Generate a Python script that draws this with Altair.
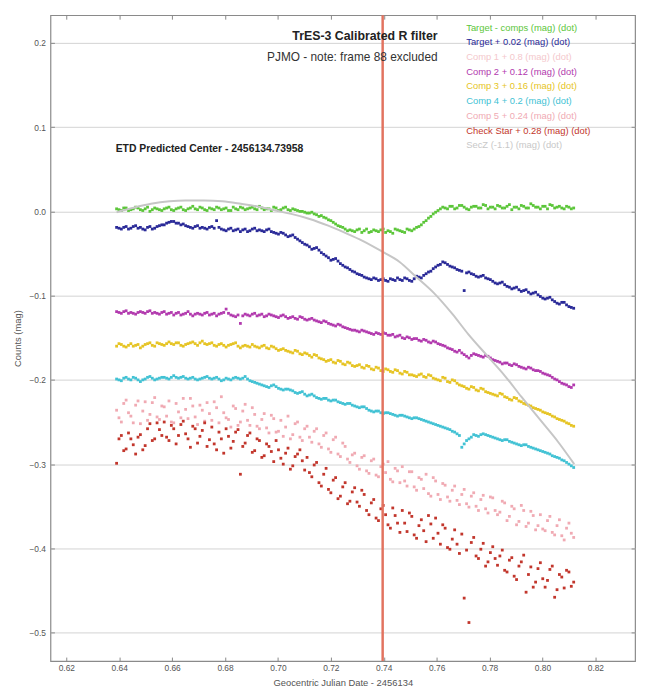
import altair as alt
import pandas as pd

# ---------------- data ----------------
# frames come in two interleaved sets (A and B) so that the dots are as dense as in the picture
TIMES_A = [0.6390, 0.6408, 0.6426, 0.6444, 0.6462, 0.6480, 0.6498, 0.6516, 0.6534, 0.6552,
           0.6570, 0.6588, 0.6606, 0.6624, 0.6642, 0.6660, 0.6678, 0.6696, 0.6714, 0.6732,
           0.6750, 0.6768, 0.6786, 0.6804, 0.6822, 0.6840, 0.6858, 0.6876, 0.6894, 0.6912,
           0.6930, 0.6948, 0.6966, 0.6984, 0.7002, 0.7020, 0.7038, 0.7056, 0.7074, 0.7092,
           0.7110, 0.7128, 0.7146, 0.7164, 0.7182, 0.7200, 0.7218, 0.7236, 0.7254, 0.7272,
           0.7290, 0.7308, 0.7326, 0.7344, 0.7362, 0.7380, 0.7398, 0.7416, 0.7434, 0.7452,
           0.7470, 0.7488, 0.7506, 0.7524, 0.7542, 0.7560, 0.7578, 0.7596, 0.7614, 0.7632,
           0.7650, 0.7668, 0.7686, 0.7704, 0.7722, 0.7740, 0.7758, 0.7776, 0.7794, 0.7812,
           0.7830, 0.7848, 0.7866, 0.7884, 0.7902, 0.7920, 0.7938, 0.7956, 0.7974, 0.7992,
           0.8010, 0.8028, 0.8046, 0.8064, 0.8082, 0.8100, 0.8118]
TIMES_B = [0.6399, 0.6417, 0.6435, 0.6453, 0.6471, 0.6489, 0.6507, 0.6525, 0.6543, 0.6561,
           0.6579, 0.6597, 0.6615, 0.6633, 0.6651, 0.6669, 0.6687, 0.6705, 0.6723, 0.6741,
           0.6759, 0.6777, 0.6795, 0.6813, 0.6831, 0.6849, 0.6867, 0.6885, 0.6903, 0.6921,
           0.6939, 0.6957, 0.6975, 0.6993, 0.7011, 0.7029, 0.7047, 0.7065, 0.7083, 0.7101,
           0.7119, 0.7137, 0.7155, 0.7173, 0.7191, 0.7209, 0.7227, 0.7245, 0.7263, 0.7281,
           0.7299, 0.7317, 0.7335, 0.7353, 0.7371, 0.7389, 0.7407, 0.7425, 0.7443, 0.7461,
           0.7479, 0.7497, 0.7515, 0.7533, 0.7551, 0.7569, 0.7587, 0.7605, 0.7623, 0.7641,
           0.7659, 0.7677, 0.7695, 0.7713, 0.7731, 0.7749, 0.7767, 0.7785, 0.7803, 0.7821,
           0.7839, 0.7857, 0.7875, 0.7893, 0.7911, 0.7929, 0.7947, 0.7965, 0.7983, 0.8001,
           0.8019, 0.8037, 0.8055, 0.8073, 0.8091, 0.8109]

TARGET_COMPS_A = [0.003, 0.001, 0.004, 0.002, 0.005, 0.002, 0.003, 0.000, 0.004, 0.002,
                  0.003, 0.005, 0.001, 0.004, 0.002, 0.003, 0.006, 0.002, 0.004, 0.001,
                  0.003, 0.005, 0.002, 0.004, 0.001, 0.003, 0.005, 0.002, 0.004, 0.003,
                  0.006, 0.002, 0.003, 0.005, 0.001, 0.004, 0.002, 0.003, 0.001,
                  0.000, -0.002, -0.001, -0.004, -0.005, -0.008, -0.011, -0.015, -0.018, -0.021,
                  -0.022, -0.024, -0.021, -0.023, -0.025, -0.022, -0.024, -0.021, -0.023, -0.026,
                  -0.022, -0.024, -0.021, -0.023,
                  -0.019, -0.016, -0.011, -0.006, -0.001, 0.003,
                  0.004, 0.006, 0.003, 0.007, 0.005, 0.002, 0.006, 0.004, 0.008, 0.003,
                  0.005, 0.007, 0.004, 0.006, 0.002, 0.005, 0.007, 0.004, 0.009, 0.005,
                  0.003, 0.006, 0.008, 0.004, 0.006, 0.003, 0.005, 0.004]
TARGET_COMPS_B = [0.002, 0.004, 0.001, 0.003, 0.004, 0.001, 0.005, 0.002, 0.003, 0.001,
                  0.004, 0.002, 0.003, 0.005, 0.001, 0.004, 0.003, 0.005, 0.002, 0.004,
                  0.002, 0.004, 0.003, 0.001, 0.005, 0.002, 0.004, 0.003, 0.005, 0.002,
                  0.004, 0.003, 0.001, 0.004, 0.002, 0.005, 0.001, 0.002,
                  0.000, -0.001, -0.002, -0.003, -0.006, -0.007, -0.010, -0.013, -0.017, -0.019, -0.023,
                  -0.023, -0.022, -0.025, -0.021, -0.024, -0.023, -0.022, -0.025, -0.024, -0.021,
                  -0.023, -0.025, -0.022,
                  -0.021, -0.018, -0.013, -0.008, -0.003, 0.001,
                  0.005, 0.003, 0.006, 0.004, 0.007, 0.003, 0.005, 0.006, 0.004, 0.007,
                  0.005, 0.003, 0.006, 0.004, 0.008, 0.005, 0.003, 0.006, 0.004, 0.007,
                  0.005, 0.006, 0.003, 0.007, 0.005, 0.004, 0.006, 0.003]

TARGET_A = [-0.019, -0.021, -0.018, -0.020, -0.017, -0.019, -0.022, -0.018, -0.020, -0.017,
            -0.016, -0.013, -0.012, -0.014, -0.015, -0.018, -0.020, -0.017, -0.019, -0.021,
            -0.018, -0.011, -0.021, -0.023, -0.020, -0.022, -0.024, -0.021, -0.023, -0.020,
            -0.022, -0.024, -0.021, -0.025, -0.027, -0.026, -0.030, -0.028, -0.033, -0.037,
            -0.040, -0.045, -0.043, -0.049, -0.053, -0.058, -0.056, -0.062, -0.066, -0.069,
            -0.072, -0.075, -0.078, -0.080, -0.079, -0.082, -0.080, -0.083, -0.081, -0.079,
            -0.082, -0.080, -0.083, -0.077, -0.079, -0.074, -0.071, -0.066, -0.063, -0.061,
            -0.065, -0.067, -0.070, -0.094, -0.072, -0.075, -0.078, -0.076, -0.080, -0.083,
            -0.086, -0.084, -0.089, -0.092, -0.090, -0.095, -0.093, -0.098, -0.096, -0.101,
            -0.104, -0.102, -0.107, -0.110, -0.108, -0.113, -0.115]
TARGET_B = [-0.020, -0.019, -0.021, -0.018, -0.020, -0.021, -0.019, -0.021, -0.018, -0.016,
            -0.014, -0.012, -0.014, -0.016, -0.017, -0.019, -0.018, -0.020, -0.020, -0.019,
            -0.020, -0.019, -0.022, -0.021, -0.023, -0.021, -0.022, -0.024, -0.021, -0.023,
            -0.023, -0.022, -0.024, -0.026, -0.025, -0.028, -0.029, -0.031, -0.035, -0.039,
            -0.042, -0.044, -0.046, -0.051, -0.055, -0.057, -0.059, -0.064, -0.067, -0.071,
            -0.074, -0.076, -0.079, -0.081, -0.080, -0.081, -0.082, -0.080, -0.082, -0.081,
            -0.079, -0.082, -0.080, -0.078, -0.076, -0.072, -0.068, -0.064, -0.060, -0.063,
            -0.066, -0.069, -0.071, -0.073, -0.074, -0.077, -0.077, -0.079, -0.081, -0.085,
            -0.085, -0.087, -0.090, -0.091, -0.093, -0.094, -0.096, -0.097, -0.099, -0.103,
            -0.103, -0.105, -0.109, -0.108, -0.111, -0.114]

COMP2_A = [-0.119, -0.121, -0.118, -0.120, -0.122, -0.119, -0.121, -0.118, -0.120, -0.122,
           -0.119, -0.121, -0.123, -0.120, -0.122, -0.119, -0.124, -0.121, -0.123, -0.120,
           -0.122, -0.124, -0.121, -0.116, -0.123, -0.125, -0.133, -0.122, -0.124, -0.121,
           -0.123, -0.125, -0.122, -0.124, -0.126, -0.123, -0.127, -0.125, -0.128, -0.126,
           -0.129, -0.127, -0.130, -0.132, -0.131, -0.134, -0.136, -0.135, -0.138, -0.140,
           -0.141, -0.143, -0.142, -0.144, -0.146, -0.145, -0.144, -0.147, -0.146, -0.148,
           -0.150, -0.149, -0.152, -0.151, -0.154, -0.153, -0.156, -0.155, -0.158, -0.160,
           -0.163, -0.166, -0.165, -0.170, -0.174, -0.169, -0.171, -0.173, -0.172, -0.176,
           -0.178, -0.181, -0.180, -0.183, -0.182, -0.185, -0.187, -0.186, -0.189, -0.190,
           -0.193, -0.195, -0.199, -0.202, -0.205, -0.208, -0.206]
COMP2_B = [-0.120, -0.119, -0.121, -0.121, -0.120, -0.120, -0.119, -0.121, -0.121, -0.120,
           -0.122, -0.120, -0.121, -0.123, -0.121, -0.122, -0.122, -0.122, -0.121, -0.123,
           -0.121, -0.122, -0.120, -0.121, -0.124, -0.123, -0.124, -0.123, -0.122, -0.124,
           -0.122, -0.124, -0.123, -0.125, -0.124, -0.125, -0.126, -0.127, -0.125, -0.128,
           -0.128, -0.129, -0.131, -0.130, -0.133, -0.135, -0.134, -0.137, -0.139, -0.141,
           -0.142, -0.141, -0.143, -0.145, -0.144, -0.146, -0.145, -0.147, -0.149, -0.147,
           -0.151, -0.150, -0.151, -0.153, -0.152, -0.155, -0.154, -0.157, -0.159, -0.162,
           -0.164, -0.167, -0.168, -0.172, -0.171, -0.170, -0.172, -0.171, -0.174, -0.177,
           -0.179, -0.180, -0.182, -0.181, -0.184, -0.186, -0.185, -0.188, -0.189, -0.192,
           -0.194, -0.197, -0.200, -0.204, -0.206, -0.209]

COMP3_A = [-0.160, -0.158, -0.161, -0.157, -0.159, -0.162, -0.158, -0.156, -0.160, -0.157,
           -0.159, -0.155, -0.158, -0.156, -0.160, -0.157, -0.155, -0.159, -0.154, -0.158,
           -0.156, -0.160, -0.157, -0.161, -0.158, -0.156, -0.162, -0.159, -0.161, -0.160,
           -0.162, -0.159, -0.163, -0.161, -0.165, -0.163, -0.166, -0.168, -0.166, -0.170,
           -0.169, -0.173, -0.171, -0.175, -0.178, -0.176, -0.180, -0.178, -0.182, -0.180,
           -0.184, -0.182, -0.186, -0.184, -0.188, -0.186, -0.190, -0.188, -0.191, -0.189,
           -0.193, -0.191, -0.194, -0.196, -0.193, -0.197, -0.195, -0.199, -0.201, -0.198,
           -0.203, -0.201, -0.206, -0.208, -0.211, -0.209, -0.213, -0.211, -0.215, -0.217,
           -0.219, -0.217, -0.221, -0.224, -0.222, -0.226, -0.229, -0.231, -0.234, -0.236,
           -0.239, -0.241, -0.244, -0.247, -0.249, -0.252, -0.255]
COMP3_B = [-0.157, -0.160, -0.159, -0.160, -0.158, -0.160, -0.157, -0.159, -0.156, -0.158,
           -0.157, -0.157, -0.156, -0.159, -0.158, -0.156, -0.157, -0.156, -0.157, -0.157,
           -0.159, -0.158, -0.159, -0.159, -0.157, -0.160, -0.160, -0.160, -0.158, -0.161,
           -0.160, -0.162, -0.160, -0.163, -0.164, -0.165, -0.167, -0.165, -0.169, -0.168,
           -0.171, -0.170, -0.174, -0.176, -0.177, -0.179, -0.177, -0.181, -0.179, -0.183,
           -0.183, -0.185, -0.183, -0.187, -0.185, -0.189, -0.187, -0.190, -0.188, -0.192,
           -0.190, -0.194, -0.195, -0.194, -0.196, -0.194, -0.198, -0.200, -0.197, -0.202,
           -0.200, -0.204, -0.207, -0.210, -0.208, -0.212, -0.210, -0.214, -0.216, -0.218,
           -0.216, -0.220, -0.223, -0.221, -0.225, -0.228, -0.230, -0.233, -0.235, -0.238,
           -0.240, -0.243, -0.246, -0.248, -0.251, -0.254]

COMP4_A = [-0.199, -0.201, -0.197, -0.200, -0.198, -0.202, -0.199, -0.196, -0.200, -0.198,
           -0.197, -0.199, -0.195, -0.198, -0.196, -0.199, -0.197, -0.200, -0.198, -0.196,
           -0.199, -0.197, -0.201, -0.198, -0.200, -0.197, -0.199, -0.196, -0.201, -0.203,
           -0.205, -0.207, -0.209, -0.206, -0.210, -0.212, -0.211, -0.213, -0.216, -0.214,
           -0.219, -0.217, -0.221, -0.223, -0.222, -0.225, -0.224, -0.227, -0.229, -0.228,
           -0.231, -0.233, -0.232, -0.236, -0.238, -0.237, -0.240, -0.239, -0.241, -0.243,
           -0.242, -0.244, -0.246, -0.245, -0.247, -0.249, -0.251, -0.253, -0.255, -0.257,
           -0.259, -0.262, -0.266, -0.276, -0.270, -0.265, -0.267, -0.264, -0.266, -0.268,
           -0.270, -0.272, -0.271, -0.274, -0.276, -0.278, -0.277, -0.280, -0.282, -0.284,
           -0.286, -0.288, -0.291, -0.293, -0.296, -0.300, -0.304]
COMP4_B = [-0.200, -0.198, -0.199, -0.197, -0.200, -0.200, -0.197, -0.198, -0.199, -0.197,
           -0.198, -0.197, -0.197, -0.197, -0.198, -0.198, -0.199, -0.199, -0.197, -0.198,
           -0.198, -0.199, -0.200, -0.199, -0.198, -0.198, -0.198, -0.199, -0.202, -0.204,
           -0.206, -0.208, -0.207, -0.208, -0.211, -0.211, -0.212, -0.215, -0.215, -0.217,
           -0.218, -0.219, -0.222, -0.222, -0.224, -0.224, -0.226, -0.228, -0.228, -0.230,
           -0.232, -0.232, -0.234, -0.237, -0.237, -0.239, -0.239, -0.240, -0.242, -0.242,
           -0.243, -0.245, -0.245, -0.246, -0.248, -0.250, -0.252, -0.254, -0.256, -0.258,
           -0.261, -0.264, -0.280, -0.272, -0.268, -0.266, -0.265, -0.265, -0.267, -0.269,
           -0.271, -0.271, -0.273, -0.275, -0.277, -0.277, -0.279, -0.281, -0.283, -0.285,
           -0.287, -0.290, -0.292, -0.295, -0.298, -0.302]

COMP5_A = [-0.236, -0.250, -0.224, -0.243, -0.230, -0.252, -0.226, -0.241, -0.221, -0.247,
           -0.232, -0.225, -0.251, -0.238, -0.222, -0.246, -0.231, -0.253, -0.236, -0.227,
           -0.248, -0.233, -0.220, -0.245, -0.256, -0.234, -0.250, -0.229, -0.254, -0.241,
           -0.258, -0.240, -0.263, -0.246, -0.261, -0.267, -0.243, -0.265, -0.250, -0.272,
           -0.255, -0.274, -0.258, -0.280, -0.263, -0.286, -0.268, -0.291, -0.279, -0.298,
           -0.287, -0.306, -0.290, -0.311, -0.294, -0.315, -0.300, -0.297, -0.321, -0.308,
           -0.303, -0.326, -0.309, -0.331, -0.318, -0.312, -0.338, -0.320, -0.342, -0.325,
           -0.344, -0.326, -0.348, -0.330, -0.351, -0.334, -0.355, -0.337, -0.358, -0.340,
           -0.360, -0.344, -0.367, -0.350, -0.372, -0.349, -0.374, -0.356, -0.378, -0.360,
           -0.379, -0.362, -0.384, -0.366, -0.390, -0.370, -0.387]
COMP5_B = [-0.245, -0.228, -0.239, -0.251, -0.225, -0.237, -0.248, -0.227, -0.244, -0.231,
           -0.243, -0.250, -0.228, -0.245, -0.235, -0.222, -0.244, -0.230, -0.249, -0.240,
           -0.226, -0.251, -0.239, -0.247, -0.231, -0.254, -0.237, -0.248, -0.233, -0.255,
           -0.247, -0.257, -0.242, -0.262, -0.248, -0.256, -0.270, -0.252, -0.268, -0.258,
           -0.268, -0.261, -0.276, -0.266, -0.282, -0.271, -0.288, -0.275, -0.294, -0.289,
           -0.302, -0.292, -0.308, -0.296, -0.313, -0.303, -0.310, -0.318, -0.305, -0.322,
           -0.320, -0.309, -0.327, -0.316, -0.329, -0.335, -0.316, -0.336, -0.323, -0.339,
           -0.331, -0.343, -0.336, -0.347, -0.338, -0.350, -0.342, -0.353, -0.339, -0.355,
           -0.357, -0.346, -0.362, -0.353, -0.368, -0.355, -0.370, -0.361, -0.373, -0.377,
           -0.367, -0.381, -0.373, -0.385, -0.376, -0.382]

CHECK_A = [-0.299, -0.266, -0.282, -0.270, -0.288, -0.265, -0.278, -0.252, -0.270, -0.259,
           -0.250, -0.272, -0.258, -0.266, -0.249, -0.270, -0.255, -0.275, -0.260, -0.279,
           -0.256, -0.283, -0.270, -0.258, -0.281, -0.262, -0.312, -0.275, -0.263, -0.284,
           -0.272, -0.290, -0.279, -0.297, -0.283, -0.300, -0.281, -0.302, -0.288, -0.296,
           -0.292, -0.315, -0.298, -0.326, -0.305, -0.334, -0.316, -0.338, -0.322, -0.344,
           -0.328, -0.350, -0.336, -0.360, -0.342, -0.367, -0.349, -0.372, -0.352, -0.370,
           -0.355, -0.380, -0.362, -0.388, -0.366, -0.392, -0.371, -0.364, -0.395, -0.376,
           -0.401, -0.378, -0.406, -0.459, -0.488, -0.387, -0.412, -0.394, -0.416, -0.398,
           -0.420, -0.402, -0.428, -0.411, -0.437, -0.416, -0.452, -0.422, -0.440, -0.417,
           -0.446, -0.425, -0.458, -0.431, -0.447, -0.428, -0.440]
CHECK_B = [-0.270, -0.284, -0.263, -0.277, -0.268, -0.283, -0.258, -0.272, -0.251, -0.266,
           -0.268, -0.254, -0.276, -0.253, -0.264, -0.280, -0.258, -0.267, -0.251, -0.271,
           -0.276, -0.262, -0.287, -0.267, -0.273, -0.259, -0.279, -0.266, -0.286, -0.270,
           -0.292, -0.276, -0.285, -0.272, -0.293, -0.287, -0.306, -0.291, -0.283, -0.307,
           -0.310, -0.301, -0.322, -0.312, -0.330, -0.319, -0.341, -0.327, -0.347, -0.333,
           -0.345, -0.331, -0.355, -0.346, -0.364, -0.353, -0.360, -0.376, -0.361, -0.381,
           -0.370, -0.358, -0.384, -0.373, -0.379, -0.361, -0.388, -0.382, -0.372, -0.399,
           -0.389, -0.395, -0.383, -0.402, -0.393, -0.409, -0.401, -0.421, -0.405, -0.412,
           -0.409, -0.426, -0.414, -0.433, -0.421, -0.408, -0.431, -0.446, -0.424, -0.436,
           -0.438, -0.421, -0.449, -0.434, -0.426, -0.445]

SECZ_T = [0.639, 0.645, 0.652, 0.659, 0.665, 0.672, 0.679, 0.686, 0.692, 0.699,
          0.705, 0.712, 0.719, 0.725, 0.732, 0.739, 0.746, 0.752, 0.759, 0.766,
          0.772, 0.779, 0.786, 0.792, 0.799, 0.806, 0.812]
SECZ_V = [-0.001, 0.004, 0.009, 0.012, 0.013, 0.013, 0.012, 0.009, 0.006, 0.001,
          -0.003, -0.009, -0.017, -0.025, -0.035, -0.047, -0.060, -0.077, -0.097, -0.122,
          -0.146, -0.171, -0.196, -0.220, -0.247, -0.274, -0.300]

ETD_CENTER = 0.73958

LEGEND_LABELS = ["Target - comps (mag) (dot)", "Target + 0.02 (mag) (dot)",
                 "Comp 1 + 0.8 (mag) (dot)", "Comp 2 + 0.12 (mag) (dot)",
                 "Comp 3 + 0.16 (mag) (dot)", "Comp 4 + 0.2 (mag) (dot)",
                 "Comp 5 + 0.24 (mag) (dot)", "Check Star + 0.28 (mag) (dot)",
                 "SecZ (-1.1) (mag) (dot)"]
LEGEND_COLORS = ["#5cc63a", "#2a2a98", "#f4c8cc", "#b23aae", "#e6c424",
                 "#42c2d4", "#f0aab3", "#c2362c", "#c8c8c8"]

X_TICKS = [0.62, 0.64, 0.66, 0.68, 0.70, 0.72, 0.74, 0.76, 0.78, 0.80, 0.82]
Y_TICKS = [-0.5, -0.4, -0.3, -0.2, -0.1, 0.0, 0.1, 0.2]

# ---------------- tables ----------------
point_series = [
    (LEGEND_LABELS[0], TARGET_COMPS_A, TARGET_COMPS_B),
    (LEGEND_LABELS[1], TARGET_A, TARGET_B),
    (LEGEND_LABELS[3], COMP2_A, COMP2_B),
    (LEGEND_LABELS[4], COMP3_A, COMP3_B),
    (LEGEND_LABELS[5], COMP4_A, COMP4_B),
    (LEGEND_LABELS[6], COMP5_A, COMP5_B),
    (LEGEND_LABELS[7], CHECK_A, CHECK_B),
]
rows = []
for name, vals_a, vals_b in point_series:
    for t, v in zip(TIMES_A, vals_a):
        rows.append({"t": t, "v": v, "s": name})
    for t, v in zip(TIMES_B, vals_b):
        rows.append({"t": t, "v": v, "s": name})
pts = pd.DataFrame(rows)
secz = pd.DataFrame({"t": SECZ_T, "v": SECZ_V})
leg = pd.DataFrame({"label": LEGEND_LABELS, "order": list(range(len(LEGEND_LABELS))),
                    "color": LEGEND_COLORS})

FONT = "Liberation Sans"
xs = alt.Scale(domain=[0.614, 0.835], nice=False, zero=False)
ys = alt.Scale(domain=[-0.5337, 0.2328], nice=False, zero=False)

x_bottom = alt.Axis(orient="bottom", values=X_TICKS, format=".2f", grid=False, domain=False,
                    tickSize=4, offset=-4, tickColor="#888888", labelPadding=3,
                    labelFontSize=8.5, labelColor="#555555", labelFont=FONT,
                    title="Geocentric Julian Date - 2456134", titleFontSize=9.5,
                    titleFontWeight="normal", titleColor="#555555", titleFont=FONT,
                    titlePadding=5)
y_left = alt.Axis(orient="left", values=Y_TICKS, format=".1f", grid=True, gridColor="#d2d2d2",
                  domain=False, tickSize=4, offset=-4, tickColor="#888888", labelPadding=5,
                  labelFontSize=8.5, labelColor="#555555", labelFont=FONT,
                  title="Counts (mag)", titleFontSize=9.5, titleFontWeight="normal",
                  titleColor="#555555", titleFont=FONT, titlePadding=7)
x_top = alt.Axis(orient="top", values=X_TICKS, labels=False, grid=False, domain=False,
                 tickSize=4, offset=-4, tickColor="#888888", title=None)
y_right = alt.Axis(orient="right", values=Y_TICKS, labels=False, grid=False, domain=False,
                   tickSize=4, offset=-4, tickColor="#888888", title=None)

points = alt.Chart(pts).mark_square(size=8, opacity=1).encode(
    x=alt.X("t:Q", scale=xs, axis=x_bottom),
    y=alt.Y("v:Q", scale=ys, axis=y_left),
    color=alt.Color("s:N", scale=alt.Scale(domain=LEGEND_LABELS, range=LEGEND_COLORS),
                    legend=None),
)

secz_line = alt.Chart(secz).mark_line(color="#c6c6c6", strokeWidth=2,
                                      interpolate="monotone").encode(
    x=alt.X("t:Q", scale=xs, axis=x_top),
    y=alt.Y("v:Q", scale=ys, axis=y_right),
)

vline = alt.Chart(pd.DataFrame({"t": [ETD_CENTER]})).mark_rule(
    color="#e2735f", strokeWidth=2.5).encode(
    x=alt.X("t:Q", scale=xs, axis=None),
)

one = alt.Data(values=[{"k": 1}])
title_txt = alt.Chart(one).mark_text(
    text="TrES-3 Calibrated R filter", font=FONT, fontSize=12.5, fontWeight="bold",
    color="#222222", align="right", baseline="middle").encode(
    x=alt.value(392), y=alt.value(21))
sub_txt = alt.Chart(one).mark_text(
    text="PJMO - note: frame 88 excluded", font=FONT, fontSize=12, color="#333333",
    align="right", baseline="middle").encode(
    x=alt.value(392), y=alt.value(42))
etd_txt = alt.Chart(one).mark_text(
    text="ETD Predicted Center - 2456134.73958", font=FONT, fontSize=10.5,
    fontWeight="bold", color="#222222", align="left", baseline="middle").encode(
    x=alt.value(66), y=alt.value(136))

legend_txt = alt.Chart(leg).transform_calculate(
    ypix="12.5 + datum.order * 14.9"
).mark_text(font=FONT, fontSize=9.5, align="left", baseline="middle").encode(
    x=alt.value(421),
    y=alt.Y("ypix:Q", scale=None, axis=None),
    text="label:N",
    color=alt.Color("color:N", scale=None, legend=None),
)

chart = alt.layer(
    points, secz_line, vline, title_txt, sub_txt, etd_txt, legend_txt
).resolve_axis(
    x="independent", y="independent"
).properties(
    width=592, height=654, autosize="none", background="white",
    padding={"left": 43, "top": 3, "right": 5, "bottom": 24},
).configure_view(stroke="#8a8a8a", strokeWidth=1.2)

chart.save("out.html", embed_options={"renderer": "svg", "actions": False})
